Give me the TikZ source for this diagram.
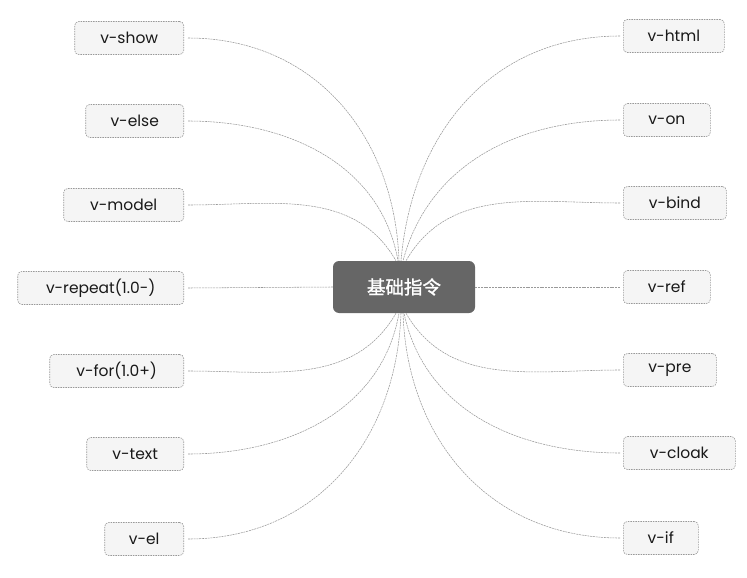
\documentclass[tikz,border=0pt]{standalone}
\usepackage{fontspec}
\setmainfont{Poppins}
\newfontfamily\cjkfont[AutoFakeBold=1.5]{Noto Sans CJK SC}
\begin{document}
\begin{tikzpicture}[x=1pt,y=1pt,
  leaf/.style={draw=gray!80, dash pattern=on 1.5pt off 1pt, line width=0.6pt, fill=gray!8,
    rounded corners=4pt, minimum height=33pt, inner sep=0pt, font=\fontsize{15.5}{17}\selectfont, text=black!90},
  lleaf/.style={leaf, anchor=east},
  rleaf/.style={leaf, anchor=west},
  hub/.style={fill=black!60, rounded corners=6pt, minimum width=142pt, minimum height=52pt,
    inner sep=0pt, text=white, font=\cjkfont\bfseries\fontsize{18.5}{20}\selectfont},
  link/.style={draw=gray!80, line width=0.55pt, dash pattern=on 2pt off 0.8pt}
]
\useasboundingbox (0,0) rectangle (747,-578);
\node[hub] (c) at (404,-287) {基础指令};
% left leaves
\node[lleaf, minimum width=109pt] (show)   at (184,-38)  {v-show};
\node[lleaf, minimum width=98pt]  (else)   at (184,-121) {v-else};
\node[lleaf, minimum width=120pt] (model)  at (184,-205) {v-model};
\node[lleaf, minimum width=166pt] (repeat) at (184,-288) {v-repeat(1.0-)};
\node[lleaf, minimum width=134pt] (for)    at (184,-371) {v-for(1.0+)};
\node[lleaf, minimum width=97pt]  (text)   at (184,-454) {v-text};
\node[lleaf, minimum width=79pt]  (el)     at (184,-539) {v-el};
% right leaves
\node[rleaf, minimum width=101pt] (html)  at (623,-36)  {v-html};
\node[rleaf, minimum width=87pt]  (on)    at (623,-120) {v-on};
\node[rleaf, minimum width=103pt] (bind)  at (623,-203) {v-bind};
\node[rleaf, minimum width=87pt]  (ref)   at (623,-287) {v-ref};
\node[rleaf, minimum width=93pt]  (pre)   at (623,-370) {v-pre};
\node[rleaf, minimum width=112pt] (cloak) at (623,-453) {v-cloak};
\node[rleaf, minimum width=75pt]  (if)    at (623,-538) {v-if};
% connectors left
\draw[link] ([xshift=4pt]show.east)  to[out=0,in=92,looseness=1.05] ([xshift=-5pt]c.north);
\draw[link] ([xshift=4pt]else.east)  to[out=0,in=100] ([xshift=-6pt]c.north);
\draw[link] ([xshift=4pt]model.east) to[out=0,in=120] ([xshift=-8pt]c.north);
\draw[link] ([xshift=4pt]repeat.east) -- (c.west);
\draw[link] ([xshift=4pt]for.east)   to[out=0,in=-120] ([xshift=-8pt]c.south);
\draw[link] ([xshift=4pt]text.east)  to[out=0,in=-100] ([xshift=-5pt]c.south);
\draw[link] ([xshift=4pt]el.east)    to[out=0,in=-92,looseness=1.05] ([xshift=-3pt]c.south);
% connectors right
\draw[link] ([xshift=-3pt]html.west)  to[out=180,in=85,looseness=1.05] ([xshift=-3pt]c.north);
\draw[link] ([xshift=-3pt]on.west)    to[out=180,in=75] ([xshift=-1pt]c.north);
\draw[link] ([xshift=-3pt]bind.west)  to[out=180,in=60] ([xshift=2pt]c.north);
\draw[link] (c.east) -- ([xshift=-3pt]ref.west);
\draw[link] ([xshift=-3pt]pre.west)   to[out=180,in=-60] ([xshift=2pt]c.south);
\draw[link] ([xshift=-3pt]cloak.west) to[out=180,in=-78] ([xshift=0pt]c.south);
\draw[link] ([xshift=-3pt]if.west)    to[out=180,in=-88,looseness=1.05] ([xshift=-1pt]c.south);
\end{tikzpicture}
\end{document}
